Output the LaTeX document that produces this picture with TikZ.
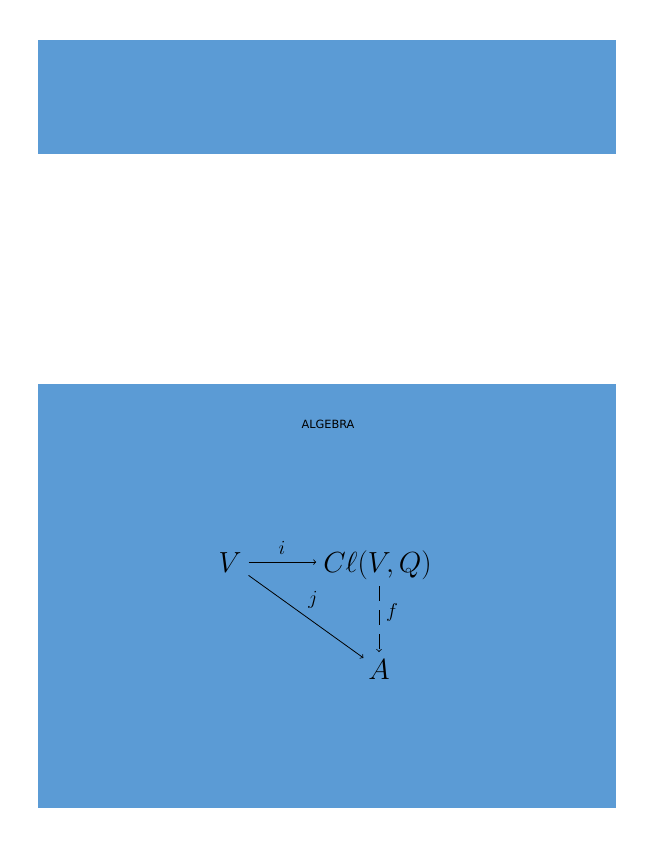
\RequirePackage{fix-cm}
\documentclass[tikz,border=0pt]{standalone}
\usepackage{fontspec}
\newfontfamily\labelfont{DejaVu Sans}
\usetikzlibrary{calc}
\definecolor{boxblue}{RGB}{91,155,213}

\tikzset{every picture/.style={line width=0.6pt}}
\tikzset{
  bigmath/.style={inner sep=5pt,font=\fontsize{21.8}{26}\selectfont},
  smallmath/.style={inner sep=0pt,font=\fontsize{15}{18}\selectfont},
  panel/.style={fill=boxblue,draw=none}
}

\begin{document}
\begin{tikzpicture}[x=0.75pt,y=0.75pt,yscale=-1,xscale=1]
\useasboundingbox (0,0) rectangle (655,848);

%Shape: Rectangle [top panel]
\path [panel] (38,40) rectangle (616,154);
%Shape: Rectangle [bottom panel]
\path [panel] (38,384) rectangle (616,808);

% Text Node
\node (title) at (328,424) {\labelfont\fontsize{8.5}{10}\selectfont ALGEBRA};

% Text Node
\node [bigmath, anchor=base] (V) at (230,572) {$V$};
% Text Node
\node [bigmath, anchor=base] (Cl) at (377.5,572) {$C\ell(V,Q)$};
% Text Node
\node [bigmath, anchor=base] (A) at (379,679) {$A$};

%Straight Lines [i]
\draw [->] (V.east) -- (V.east -| Cl.west) ;
%Straight Lines [j]
\draw [->, shorten >=-2pt] (V) -- (A) ;
%Straight Lines [f]
\draw [->, dash pattern={on 11pt off 7pt}] (A.north |- Cl.south) -- (A.north) ;

% Text Node
\node [smallmath] (lbli) at (282,548) {$i$};
% Text Node
\node [smallmath] (lblj) at (313,600) {$j$};
% Text Node
\node [smallmath] (lblf) at (392,612) {$f$};

\end{tikzpicture}
\end{document}
